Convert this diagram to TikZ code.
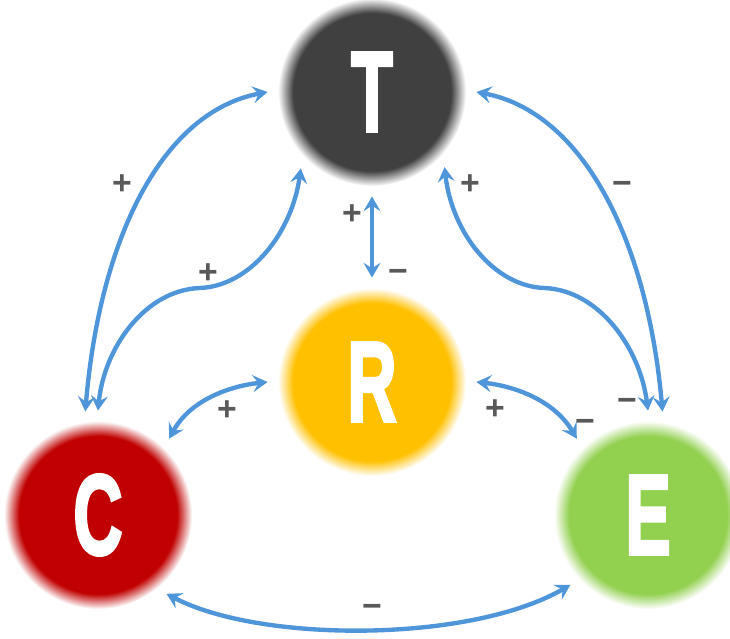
\documentclass[tikz,border=0pt]{standalone}
\usepackage{fontspec}
\setmainfont{Liberation Sans}
\newfontfamily\letterfont[BoldFeatures={FakeBold=3}]{Liberation Sans}
\usepackage{xcolor}
\usepackage{graphicx}
\usepackage{tikz}
\usetikzlibrary{arrows.meta}

\definecolor{tcol}{HTML}{404040}
\definecolor{rcol}{HTML}{FFC000}
\definecolor{ccol}{HTML}{C00000}
\definecolor{ecol}{HTML}{92D050}
\definecolor{linkblue}{HTML}{4F95DA}
\definecolor{signgray}{HTML}{595959}

\pgfdeclareradialshading{glowT}{\pgfpoint{0bp}{0bp}}{color(0bp)=(tcol); color(21bp)=(tcol); color(25bp)=(white); color(50bp)=(white)}
\pgfdeclareradialshading{glowR}{\pgfpoint{0bp}{0bp}}{color(0bp)=(rcol); color(21bp)=(rcol); color(25bp)=(white); color(50bp)=(white)}
\pgfdeclareradialshading{glowC}{\pgfpoint{0bp}{0bp}}{color(0bp)=(ccol); color(21bp)=(ccol); color(25bp)=(white); color(50bp)=(white)}
\pgfdeclareradialshading{glowE}{\pgfpoint{0bp}{0bp}}{color(0bp)=(ecol); color(21bp)=(ecol); color(25bp)=(white); color(50bp)=(white)}

\newcommand{\bigletter}[1]{\scalebox{0.6}[1]{#1}}

\begin{document}
\begin{tikzpicture}[
  x=0.025cm, y=0.025cm,
  ball/.style={circle, shade, minimum size=4.7cm, inner sep=0pt, outer sep=0.26cm, text=white, font=\fontsize{81}{81}\letterfont\bfseries},
  link/.style={draw=linkblue, line width=3.1pt, >={Stealth[length=10.5pt, width=12pt, inset=4pt]}, <->},
  sign/.style={text=signgray, text height=17pt, text depth=0pt, inner sep=0pt, font=\fontsize{24}{24}\selectfont\bfseries}
]
  \useasboundingbox (0,0) rectangle (730,638);
  \node[ball, shading=glowT] (T) at (372,546) {\bigletter{T}};
  \node[ball, shading=glowR] (R) at (372,256) {\bigletter{R}};
  \node[ball, shading=glowC] (C) at (98,123) {\bigletter{C}};
  \node[ball, shading=glowE] (E) at (648,123) {\bigletter{E}};

  \draw[link] (C.97) .. controls (100,400) and (162,526) .. (T.180);
  \draw[link] (C.90) .. controls (104,290) and (145,348) .. (200,350) .. controls (250,352) and (292,405) .. (T.227);
  \draw[link] (C.47) .. controls (190,238) and (230,252) .. (R.180);
  \draw[link] (T.270) -- (R.90);
  \draw[link] (T.0) .. controls (582,526) and (647,400) .. (E.82);
  \draw[link] (E.90) .. controls (640,290) and (599,348) .. (544,350) .. controls (494,352) and (452,405) .. (T.314);
  \draw[link] (R.0) .. controls (514,252) and (554,238) .. (E.133);
  \draw[link] (C.311) .. controls (260,-5) and (470,-5) .. (E.222);

  \node[sign] (ctOut) at (122,455) {+};
  \node[sign] (ctIn) at (208,366) {+};
  \node[sign] (cr) at (227,229) {+};
  \node[sign] (trUp) at (352,425) {+};
  \node[sign] (trDown) at (398,367) {−};
  \node[sign] (teOut) at (622,455) {−};
  \node[sign] (teInT) at (470,455) {+};
  \node[sign] (teInE) at (627,238) {−};
  \node[sign] (reR) at (495,230) {+};
  \node[sign] (reE) at (585,217) {−};
  \node[sign] (ce) at (372,32) {−};
\end{tikzpicture}
\end{document}
